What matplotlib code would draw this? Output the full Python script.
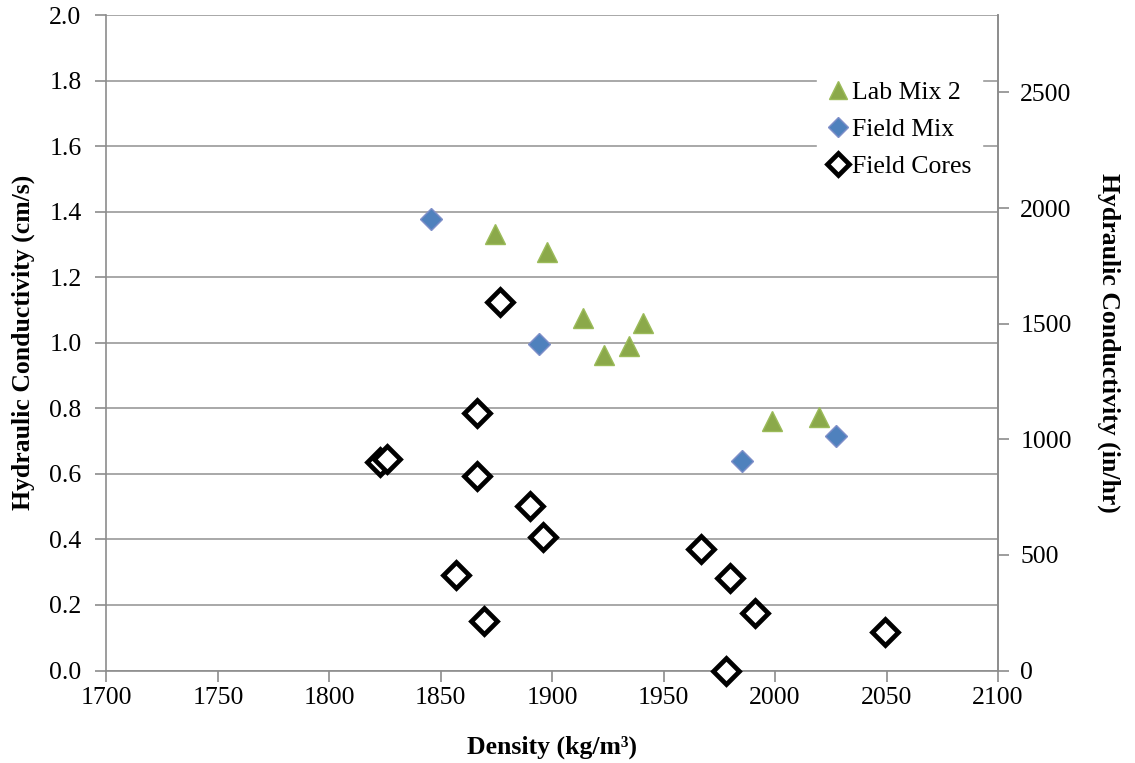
import matplotlib
matplotlib.use('Agg')
import matplotlib.pyplot as plt

plt.rcParams['font.family'] = ['Liberation Serif', 'DejaVu Serif']

# cm/s -> in/hr
CM_S_TO_IN_HR = 1417.32

# Lab Mix 2 (density kg/m3, conductivity cm/s)
lab_density = [1874.1, 1897.6, 1913.6, 1940.9, 1923.3, 1934.4, 1998.4, 2019.8]
lab_k = [1.332, 1.276, 1.075, 1.060, 0.963, 0.991, 0.760, 0.775]

# Field Mix
fmix_density = [1845.5, 1894.1, 1985.1, 2027.4]
fmix_k = [1.378, 0.996, 0.638, 0.716]

# Field Cores
core_density = [1876.5, 1866.1, 1822.7, 1826.0, 1866.1, 1890.1, 1895.8,
                1856.7, 1869.6, 1966.8, 1979.9, 1991.1, 1977.9, 2049.1]
core_k = [1.123, 0.786, 0.636, 0.646, 0.592, 0.501, 0.407,
          0.292, 0.151, 0.372, 0.282, 0.176, 0.0, 0.117]

x_ticks = [1700, 1750, 1800, 1850, 1900, 1950, 2000, 2050, 2100]
y_ticks = [0.0, 0.2, 0.4, 0.6, 0.8, 1.0, 1.2, 1.4, 1.6, 1.8, 2.0]
y2_ticks = [0, 500, 1000, 1500, 2000, 2500]

GRID = '#9a9a9a'
SPINE = '#8c8c8c'
FS = 18.5

fig = plt.figure(figsize=(11.35, 7.63), dpi=100)
ax = fig.add_axes([0.0938, 0.1212, 0.7855, 0.8591])

ax.plot(lab_density, lab_k, linestyle='none', marker='^', markersize=15,
        color='#8BA94A', markeredgecolor='#9BBB59', label='Lab Mix 2', zorder=3)
ax.plot(fmix_density, fmix_k, linestyle='none', marker='D', markersize=11,
        color='#4F81BD', markeredgecolor='#7F8FC9', label='Field Mix', zorder=3)
ax.plot(core_density, core_k, linestyle='none', marker='D', markersize=13,
        markerfacecolor='white', markeredgecolor='black', markeredgewidth=3.4,
        label='Field Cores', zorder=3, clip_on=False)

ax.set_xlim(1700, 2100)
ax.set_ylim(0, 2.0)
ax.set_xticks(x_ticks)
ax.set_yticks(y_ticks)
ax.set_yticklabels([f'{v:.1f}' for v in y_ticks])
ax.yaxis.grid(True, color=GRID, linewidth=1.2)
ax.set_axisbelow(True)

ax.spines['top'].set_visible(False)
for s in ['left', 'bottom', 'right']:
    ax.spines[s].set_color(SPINE)
    ax.spines[s].set_linewidth(1.2)

ax.tick_params(axis='x', direction='out', length=8, width=1.2, color=SPINE,
               labelsize=FS, pad=4)
ax.tick_params(axis='y', direction='out', length=8, width=1.2, color=SPINE,
               labelsize=FS, pad=10)
ax.set_xlabel('Density (kg/m³)', fontsize=FS, fontweight='bold', labelpad=19)
ax.set_ylabel('Hydraulic Conductivity (cm/s)', fontsize=FS, fontweight='bold', labelpad=10)

ax2 = ax.twinx()
ax2.set_ylim(0, 2.0 * CM_S_TO_IN_HR)
ax2.set_yticks(y2_ticks)
for s in ['top', 'left', 'bottom']:
    ax2.spines[s].set_visible(False)
ax2.spines['right'].set_color(SPINE)
ax2.spines['right'].set_linewidth(1.2)
ax2.tick_params(axis='y', direction='out', length=8, width=1.2, color=SPINE,
                labelsize=FS, pad=8)
ax2.set_ylabel('Hydraulic Conductivity (in/hr)', fontsize=FS, fontweight='bold',
               rotation=270, labelpad=35)

leg = ax.legend(loc='upper left', bbox_to_anchor=(0.783, 0.935), frameon=True,
                fontsize=FS, handlelength=0.8, handletextpad=0.15,
                labelspacing=0.55, borderpad=0.4, markerscale=0.9, fancybox=False)
leg.get_frame().set_edgecolor('white')
leg.get_frame().set_facecolor('white')
leg.get_frame().set_alpha(1.0)
leg.set_zorder(5)

fig.savefig('out.png', dpi=100)
